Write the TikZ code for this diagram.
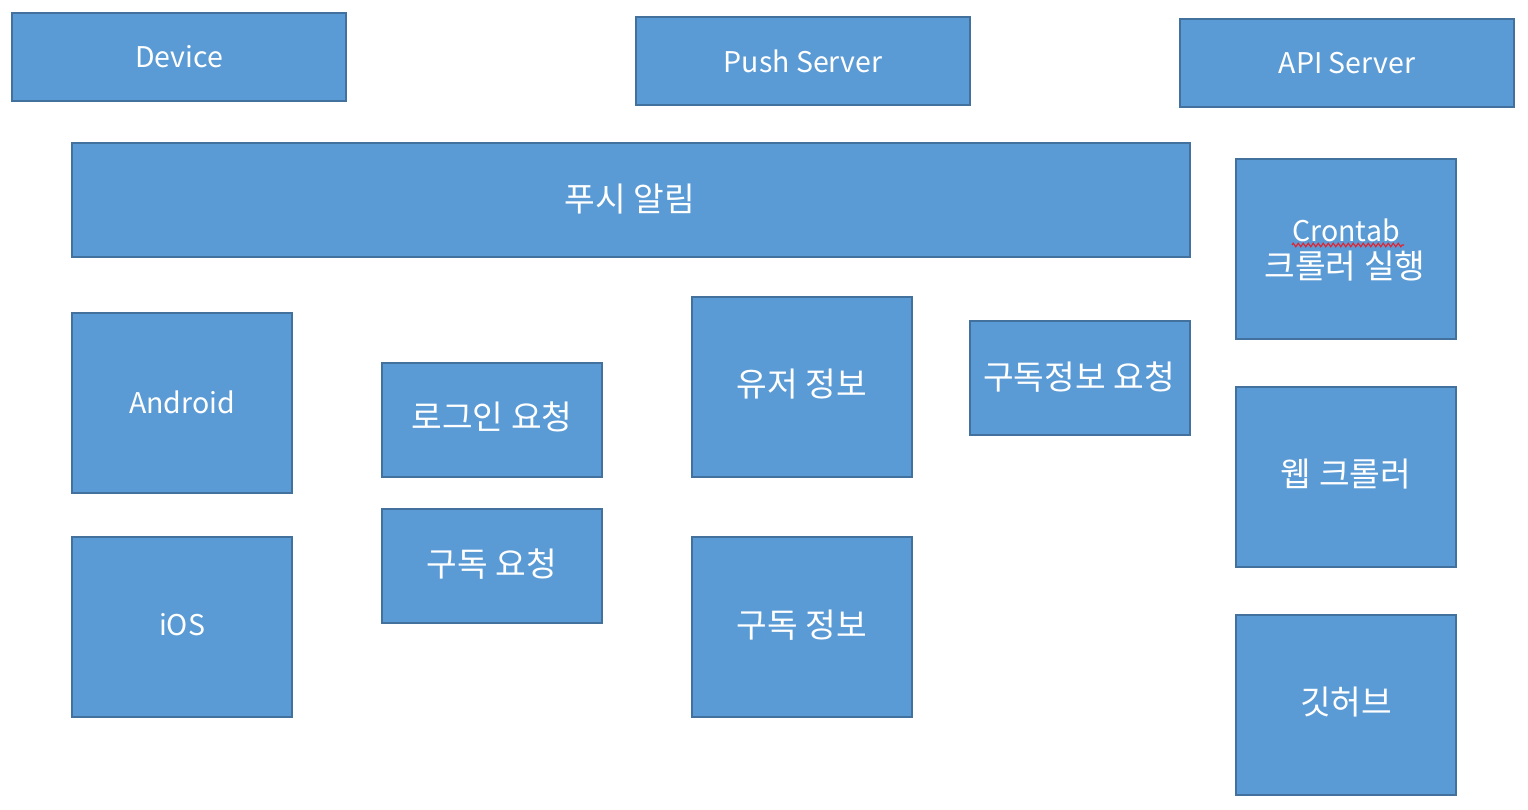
\documentclass[tikz,border=0pt]{standalone}
\usepackage{fontspec}
\setmainfont{Noto Sans CJK KR}
\newfontfamily\kr[Scale=1.17]{Noto Sans CJK KR}
\usetikzlibrary{decorations.pathmorphing}
\definecolor{boxfill}{HTML}{5B9BD5}
\definecolor{boxline}{HTML}{41719C}
\definecolor{squig}{HTML}{E8202A}
\begin{document}
\begin{tikzpicture}[x=1pt,y=-1pt,
  bx/.style={draw=boxline,fill=boxfill,line width=1.5pt},
  lbl/.style={text=white,font=\fontsize{28.5}{34}\selectfont,align=center,inner sep=0pt},
  klbl/.style={lbl,font=\fontsize{28.5}{34}\selectfont\kr}]
\useasboundingbox (0,0) rectangle (1528,810);
% boxes
\draw[bx] (12,13) rectangle (346,101);
\node[lbl] (device) at (179,57) {Device};
\draw[bx] (636,17) rectangle (970,105);
\node[lbl] (push) at (803,61) {Push Server};
\draw[bx] (1180,19) rectangle (1514,107);
\node[lbl] (api) at (1347,63) {API Server};
\draw[bx] (72,143) rectangle (1190,257);
\node[klbl] (alarm) at (630,199) {푸시 알림};
\draw[bx] (1236,159) rectangle (1456,339);
\node[lbl] (cron) at (1346,230) {Crontab};
\node[klbl] (cronk) at (1345,266) {크롤러 실행};
\draw[bx] (72,313) rectangle (292,493);
\node[lbl] (android) at (182,402) {Android};
\draw[bx] (382,363) rectangle (602,477);
\node[klbl] (login) at (492,417) {로그인 요청};
\draw[bx] (692,297) rectangle (912,477);
\node[klbl] (user) at (802,384) {유저 정보};
\draw[bx] (970,321) rectangle (1190,435);
\node[klbl] (subreq2) at (1079,377) {구독정보 요청};
\draw[bx] (1236,387) rectangle (1456,567);
\node[klbl] (web) at (1346,474) {웹 크롤러};
\draw[bx] (72,537) rectangle (292,717);
\node[lbl] (ios) at (182,625) {iOS};
\draw[bx] (382,509) rectangle (602,623);
\node[klbl] (subreq) at (492,564) {구독 요청};
\draw[bx] (692,537) rectangle (912,717);
\node[klbl] (subinfo) at (802,625) {구독 정보};
\draw[bx] (1236,615) rectangle (1456,795);
\node[klbl] (github) at (1346,702) {깃허브};
% spell-check squiggle
\draw[squig,line width=1.1pt,decorate,decoration={zigzag,amplitude=1.8pt,segment length=5pt}] (1292,245) -- (1404,245);
\end{tikzpicture}
\end{document}
